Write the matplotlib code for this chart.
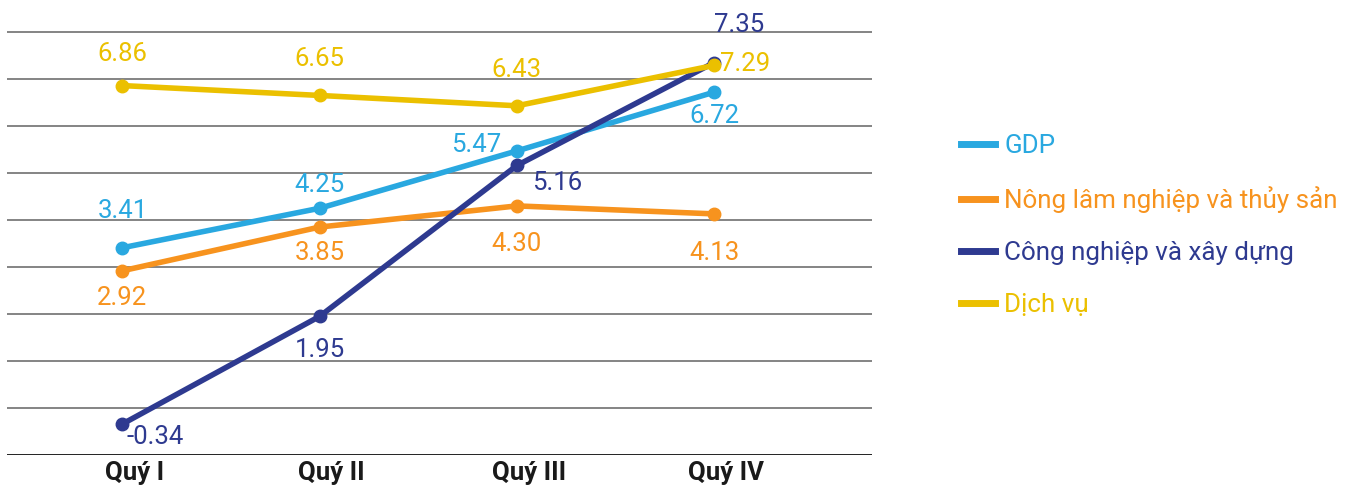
import matplotlib
matplotlib.use("Agg")
import matplotlib.pyplot as plt
from matplotlib.lines import Line2D
from matplotlib.transforms import ScaledTranslation

plt.rcParams['font.family'] = ['Roboto', 'DejaVu Sans']

quarters = ["Quý I", "Quý II", "Quý III", "Quý IV"]
series_names = ["GDP", "Nông lâm nghiệp và thủy sản", "Công nghiệp và xây dựng", "Dịch vụ"]
gdp = [3.41, 4.25, 5.47, 6.72]
nong_lam = [2.92, 3.85, 4.30, 4.13]
cong_nghiep = [-0.34, 1.95, 5.16, 7.35]
dich_vu = [6.86, 6.65, 6.43, 7.29]

colors = ["#29A8E0", "#F7931E", "#2E3A90", "#EBC000"]
values = [gdp, nong_lam, cong_nghiep, dich_vu]

# label offsets in pixels (dx, dy) for each point
offsets = [
    [(0, 37), (0, 23), (-41, 6), (0, -24)],
    [(0, -27), (0, -26), (0, -38), (0, -39)],
    [(33, -13), (0, -34), (40, -18), (25, 38)],
    [(0, 32), (0, 36), (0, 36), (31, 1)],
]

fig = plt.figure(figsize=(13.53, 4.88), dpi=100)
ax = fig.add_axes([7/1353, 33/488, (872-7)/1353, (488-33)/488])

x = list(range(len(quarters)))
ax.set_xlim(-0.585, 3.80)
ax.set_ylim(-1, 8 + 32/47)

for yv in range(0, 9):
    ax.axhline(yv, color="#707070", lw=1.2, zorder=1)
ax.axhline(-1, color="#222222", lw=1.4, zorder=1)

order = [3, 0, 1, 2]
for i in order:
    ax.plot(x, values[i], color=colors[i], lw=4, marker="o", ms=9,
            solid_capstyle="round", zorder=3 + i)
    for j, v in enumerate(values[i]):
        dx, dy = offsets[i][j]
        ax.annotate(f"{v:.2f}", (x[j], v), xytext=(dx, dy),
                    textcoords="offset pixels", ha="center", va="center",
                    color=colors[i], fontsize=18.5, zorder=10)

ax.set_xticks(x)
ax.set_xticklabels(quarters, fontsize=18.5, fontweight="bold", color="#1a1a1a")
ax.tick_params(axis="x", length=0, pad=4)
shift = ScaledTranslation(12/100, 0, fig.dpi_scale_trans)
for lbl in ax.get_xticklabels():
    lbl.set_transform(lbl.get_transform() + shift)
ax.set_yticks([])
for s in ax.spines.values():
    s.set_visible(False)

handles = [Line2D([0], [0], color=c, lw=5) for c in colors]
leg = fig.legend(handles, series_names, loc="upper left",
                 bbox_to_anchor=(951/1353, 1 - 124/488), frameon=False,
                 fontsize=18.7, handlelength=1.3, handletextpad=0.35,
                 labelspacing=1.08, borderaxespad=0)
for t, c in zip(leg.get_texts(), colors):
    t.set_color(c)

fig.savefig("out.png", dpi=100)
